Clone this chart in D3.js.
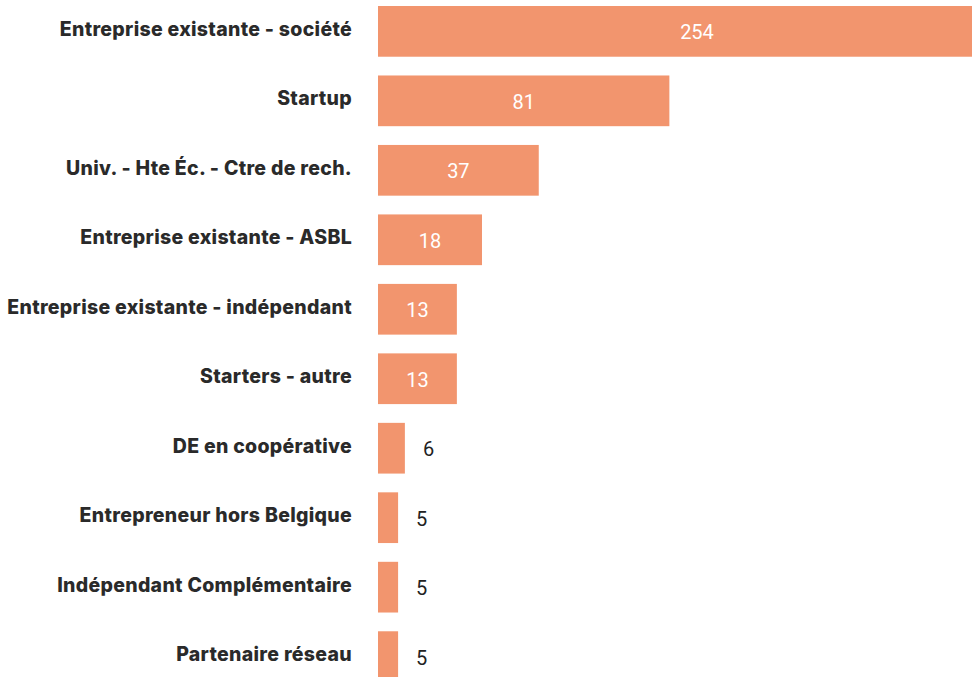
<!DOCTYPE html>
<html>
<head>
<meta charset="utf-8">
<script src="https://cdn.jsdelivr.net/npm/d3@7"></script>
<style>
  html, body { margin: 0; padding: 0; background: #fff; }
  svg { display: block; }
</style>
</head>
<body>
<div id="chart"></div>
<script>
// Categories (top to bottom)
const categories = [
  "Entreprise existante - société",
  "Startup",
  "Univ. - Hte Éc. - Ctre de rech.",
  "Entreprise existante - ASBL",
  "Entreprise existante - indépendant",
  "Starters - autre",
  "DE en coopérative",
  "Entrepreneur hors Belgique",
  "Indépendant Complémentaire",
  "Partenaire réseau"
];
// Values printed on the bars
const counts = [254, 81, 37, 18, 13, 13, 6, 5, 5, 5];
// Bar extents as drawn in the picture (same units as counts; the source chart
// does not draw its bars proportionally to the printed counts)
const barLengths = [254, 116, 64, 41.4, 31.4, 31.4, 10.7, 8, 8, 8];

const W = 972, H = 677;
const svg = d3.select("#chart").append("svg")
  .attr("width", W).attr("height", H);

const x0 = 378;
const x = d3.scaleLinear().domain([0, 254]).range([x0, x0 + 638]);
const y = d3.scaleBand().domain(categories)
  .range([6, 682]).paddingInner(0.27).paddingOuter(0);

const rows = categories.map((c, i) => ({ c, v: counts[i], len: barLengths[i] }));

svg.append("g").selectAll("rect").data(rows).join("rect")
  .attr("x", x(0))
  .attr("y", d => y(d.c))
  .attr("width", d => x(d.len) - x(0))
  .attr("height", y.bandwidth())
  .attr("fill", "#F2956E");

// Category labels
svg.append("g").selectAll("text").data(rows).join("text")
  .attr("x", 352)
  .attr("y", d => y(d.c) + y.bandwidth() / 2 + 4.5)
  .attr("text-anchor", "end")
  .attr("font-family", "Inter, 'Noto Sans', sans-serif")
  .attr("font-weight", 800)
  .attr("font-size", 19.5)
  .attr("letter-spacing", 0.3)
  .attr("fill", "#2a2a2a")
  .text(d => d.c);

// Value labels
const inside = d => (x(d.len) - x(0)) > 50;
svg.append("g").selectAll("text").data(rows).join("text")
  .attr("x", d => inside(d) ? (x(0) + x(d.len)) / 2 : x(d.len) + 18)
  .attr("y", d => y(d.c) + y.bandwidth() / 2 + 8)
  .attr("text-anchor", d => inside(d) ? "middle" : "start")
  .attr("font-family", "Roboto, sans-serif")
  .attr("font-size", 20)
  .attr("fill", d => inside(d) ? "#ffffff" : "#222222")
  .text(d => d.v);
</script>
</body>
</html>
